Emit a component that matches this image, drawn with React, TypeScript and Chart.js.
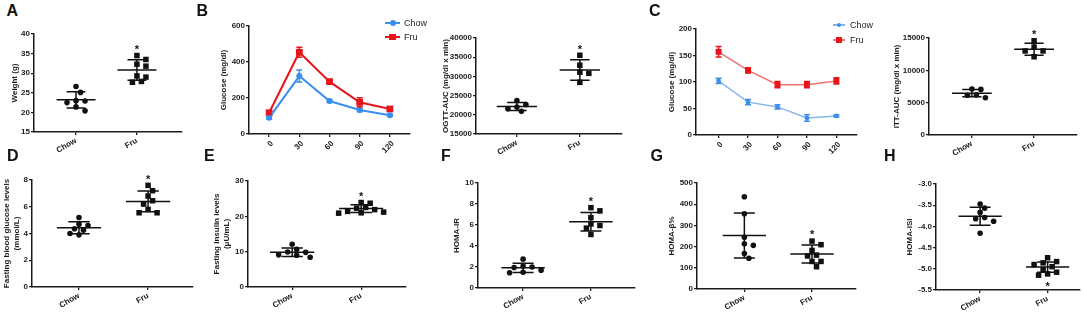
import React, { useEffect, useRef } from "react";
import { Chart, registerables } from "chart.js";

Chart.register(...registerables);

const FONT = "'Liberation Sans', Arial, Helvetica, sans-serif";
const INK = "#1b1b1b";
const DOT = "#111111";

// ---------- data ----------
const groupLabels = ["Chow", "Fru"];
const timePoints = [0, 30, 60, 90, 120];

// A body weight (g)
const chowWeight = [26.6, 25.1, 23.0, 22.9, 22.5, 21.4, 20.4];
const fruWeight = [34.5, 33.5, 32.3, 31.8, 29.3, 29.0, 27.9, 27.7];
const weightMean = [23.2, 30.8];
const weightSd = [2.05, 2.6];

// B OGTT glucose (mg/dl)
const chowOgtt = [90, 322, 183, 133, 104];
const chowOgttSd = [8, 33, 8, 10, 6];
const fruOgtt = [118, 454, 291, 176, 139];
const fruOgttSd = [10, 28, 8, 25, 10];

// B OGTT AUC
const chowOgttAuc = [23700, 22700, 22000, 21600, 20900];
const fruOgttAuc = [35500, 32900, 31100, 30800, 28450];
const ogttAucMean = [22150, 31650];
const ogttAucSd = [1030, 2680];

// C ITT glucose (mg/dl)
const chowItt = [102, 62, 53, 32, 36];
const chowIttSd = [5, 5, 4, 6, 2];
const fruItt = [157, 122, 95, 95, 102];
const fruIttSd = [10, 5, 6, 6, 6];

// C ITT AUC
const chowIttAuc = [7100, 7050, 6200, 6150, 5750];
const fruIttAuc = [14600, 13600, 13000, 13000, 12100];
const ittAucMean = [6470, 13250];
const ittAucSd = [565, 925];

// D fasting blood glucose (mmol/L)
const chowFbg = [5.2, 4.7, 4.6, 4.35, 4.25, 4.0, 3.9];
const fruFbg = [7.6, 7.2, 6.8, 6.45, 6.2, 5.8, 5.55, 5.55];
const fbgMean = [4.43, 6.4];
const fbgSd = [0.45, 0.77];

// E fasting insulin (uU/mL)
const chowIns = [12.1, 10.7, 9.9, 9.8, 9.1, 9.0, 8.4];
const fruIns = [23.9, 23.7, 22.5, 22.3, 21.9, 21.4, 21.2, 21.0, 20.9];
const insMean = [9.84, 22.2];
const insSd = [1.22, 1.1];

// F HOMA-IR
const chowHomaIr = [2.75, 2.1, 2.0, 1.95, 1.7, 1.5, 1.45];
const fruHomaIr = [7.65, 7.35, 6.7, 6.1, 5.95, 5.7, 5.1];
const homaIrMean = [1.92, 6.31];
const homaIrSd = [0.44, 0.88];

// G HOMA-beta%
const chowHomaB = [435, 355, 244, 213, 206, 167, 145];
const fruHomaB = [226, 209, 182, 160, 156, 130, 130, 105];
const homaBMean = [252, 165];
const homaBSd = [106, 42];

// H HOMA-ISI
const chowHomaIsi = [-3.47, -3.57, -3.67, -3.79, -3.82, -3.88, -4.16];
const fruHomaIsi = [-4.74, -4.83, -4.86, -4.9, -4.95, -5.02, -5.08, -5.12, -5.15];
const homaIsiMean = [-3.76, -4.96];
const homaIsiSd = [0.21, 0.12];

// ---------- styles ----------
const tickFont = { family: FONT, size: 8, weight: "bold" as const };
const titleFont = { family: FONT, size: 8, weight: "bold" as const, lineHeight: 1.25 };

type Rect = { l: number; t: number; r: number; b: number };
type Group = { values: number[]; mean: number; sd: number; star?: "up" | "down" };
type Series = {
  label: string; values: number[]; sds: number[]; line: string; marker: string;
  style: string; radius: number; width: number;
};
type Panel = {
  id: string; kind: "dot" | "line"; plot: Rect; titleX: number; title: string | string[];
  y: [number, number, number]; dec?: number; xRange: [number, number];
  groups?: Group[]; series?: Series[];
};

const BLUE = "#3a8ff0";
const RED = "#e8141c";

const panels: Panel[] = [
  {
    id: "A", kind: "dot", plot: { l: 34, t: 34, r: 182, b: 132 }, titleX: 15, title: "Weight (g)",
    y: [15, 40, 5], xRange: [0.31, 2.74],
    groups: [
      { values: chowWeight, mean: weightMean[0], sd: weightSd[0] },
      { values: fruWeight, mean: weightMean[1], sd: weightSd[1], star: "up" },
    ],
  },
  {
    id: "B", kind: "line", plot: { l: 249, t: 26, r: 410, b: 134 }, titleX: 224, title: "Glucose (mg/dl)",
    y: [0, 600, 200], xRange: [-20, 140],
    series: [
      { label: "Chow", values: chowOgtt, sds: chowOgttSd, line: BLUE, marker: BLUE, style: "circle", radius: 3, width: 2 },
      { label: "Fru", values: fruOgtt, sds: fruOgttSd, line: RED, marker: RED, style: "rect", radius: 4.8, width: 2 },
    ],
  },
  {
    id: "Bauc", kind: "dot", plot: { l: 476, t: 38, r: 622, b: 134 }, titleX: 446, title: "OGTT-AUC (mg/dl x min)",
    y: [15000, 40000, 5000], xRange: [0.35, 2.67],
    groups: [
      { values: chowOgttAuc, mean: ogttAucMean[0], sd: ogttAucSd[0] },
      { values: fruOgttAuc, mean: ogttAucMean[1], sd: ogttAucSd[1], star: "up" },
    ],
  },
  {
    id: "C", kind: "line", plot: { l: 696, t: 29, r: 857, b: 135 }, titleX: 672, title: "Glucose (mg/dl)",
    y: [0, 200, 50], xRange: [-23, 141],
    series: [
      { label: "Chow", values: chowItt, sds: chowIttSd, line: "#86b6ee", marker: "#3d8fe8", style: "circle", radius: 2.4, width: 1.5 },
      { label: "Fru", values: fruItt, sds: fruIttSd, line: "#f07272", marker: RED, style: "rect", radius: 4.2, width: 1.5 },
    ],
  },
  {
    id: "Cauc", kind: "dot", plot: { l: 929, t: 38, r: 1077, b: 135 }, titleX: 897, title: "ITT-AUC (mg/dl x min)",
    y: [0, 15000, 5000], xRange: [0.31, 2.69],
    groups: [
      { values: chowIttAuc, mean: ittAucMean[0], sd: ittAucSd[0] },
      { values: fruIttAuc, mean: ittAucMean[1], sd: ittAucSd[1], star: "up" },
    ],
  },
  {
    id: "D", kind: "dot", plot: { l: 32, t: 180, r: 193, b: 287 }, titleX: 7, title: ["Fasting blood glucose levels", "(mmol/L)"],
    y: [0, 8, 2], xRange: [0.32, 2.65],
    groups: [
      { values: chowFbg, mean: fbgMean[0], sd: fbgSd[0] },
      { values: fruFbg, mean: fbgMean[1], sd: fbgSd[1], star: "up" },
    ],
  },
  {
    id: "E", kind: "dot", plot: { l: 248, t: 181, r: 406, b: 287 }, titleX: 217, title: ["Fasting insulin levels", "(μU/mL)"],
    y: [0, 30, 10], xRange: [0.36, 2.65],
    groups: [
      { values: chowIns, mean: insMean[0], sd: insSd[0] },
      { values: fruIns, mean: insMean[1], sd: insSd[1], star: "up" },
    ],
  },
  {
    id: "F", kind: "dot", plot: { l: 478, t: 183, r: 635, b: 288 }, titleX: 457, title: "HOMA-IR",
    y: [0, 10, 2], xRange: [0.335, 2.65],
    groups: [
      { values: chowHomaIr, mean: homaIrMean[0], sd: homaIrSd[0] },
      { values: fruHomaIr, mean: homaIrMean[1], sd: homaIrSd[1], star: "up" },
    ],
  },
  {
    id: "G", kind: "dot", plot: { l: 697, t: 183, r: 856, b: 289 }, titleX: 672, title: "HOMA-β%",
    y: [0, 500, 100], xRange: [0.3, 2.65],
    groups: [
      { values: chowHomaB, mean: homaBMean[0], sd: homaBSd[0] },
      { values: fruHomaB, mean: homaBMean[1], sd: homaBSd[1], star: "up" },
    ],
  },
  {
    id: "H", kind: "dot", plot: { l: 936, t: 184, r: 1082, b: 290 }, titleX: 910, title: "HOMA-ISI",
    y: [-5.5, -3, 0.5], dec: 1, xRange: [0.346, 2.48],
    groups: [
      { values: chowHomaIsi, mean: homaIsiMean[0], sd: homaIsiSd[0] },
      { values: fruHomaIsi, mean: homaIsiMean[1], sd: homaIsiSd[1], star: "down" },
    ],
  },
];

const letters = [
  { t: "A", x: 6.5, y: 3 }, { t: "B", x: 196.5, y: 3 }, { t: "C", x: 649, y: 3 },
  { t: "D", x: 7, y: 148 }, { t: "E", x: 204, y: 148 }, { t: "F", x: 441, y: 148 },
  { t: "G", x: 650.5, y: 148 }, { t: "H", x: 884, y: 148 },
];

const legends = [
  { panel: "B", x: 385, y: 23.3, gap: 14, lineW: 15, textGap: 4 },
  { panel: "C", x: 833, y: 25, gap: 15, lineW: 12, textGap: 5 },
];

// ---------- plugins ----------
const dotPlotPlugin = {
  id: "dotPlot",
  afterDatasetsUpdate(chart: any) {
    chart.data.datasets.forEach((ds: any, di: number) => {
      const els = chart.getDatasetMeta(di).data as any[];
      const order = els.map((_, i) => i).sort((a, b) => els[a].y - els[b].y);
      const placed: { x: number; y: number }[] = [];
      const step = 4.5;
      const minDist = 6;
      for (const i of order) {
        const el = els[i];
        const base = el.x;
        for (let k = 0; k < 30; k++) {
          const off = k === 0 ? 0 : (k % 2 === 1 ? 1 : -1) * Math.ceil(k / 2) * step;
          const x = base + off;
          if (placed.every((p) => Math.hypot(p.x - x, p.y - el.y) >= minDist)) {
            el.x = x;
            placed.push({ x, y: el.y });
            break;
          }
        }
      }
    });
  },
  afterDatasetsDraw(chart: any) {
    const { ctx, scales } = chart;
    const xs = scales.x;
    const ys = scales.y;
    const spacing = Math.abs(xs.getPixelForValue(2) - xs.getPixelForValue(1));
    const half = spacing * 0.32;
    const cap = spacing * 0.155;
    chart.data.datasets.forEach((ds: any, di: number) => {
      const cx = xs.getPixelForValue(ds.group);
      const my = ys.getPixelForValue(ds.mean);
      const top = ys.getPixelForValue(ds.mean + ds.sd);
      const bot = ys.getPixelForValue(ds.mean - ds.sd);
      ctx.save();
      ctx.strokeStyle = DOT;
      ctx.lineWidth = 1.5;
      ctx.beginPath();
      ctx.moveTo(cx - half, my); ctx.lineTo(cx + half, my);
      ctx.moveTo(cx, top); ctx.lineTo(cx, bot);
      ctx.moveTo(cx - cap, top); ctx.lineTo(cx + cap, top);
      ctx.moveTo(cx - cap, bot); ctx.lineTo(cx + cap, bot);
      ctx.stroke();
      if (ds.star) {
        const els = chart.getDatasetMeta(di).data as any[];
        const ysPix = els.map((e) => e.y);
        const starY = ds.star === "up" ? Math.min(...ysPix, top) - 9 : Math.max(...ysPix, bot) + 9;
        ctx.fillStyle = DOT;
        ctx.font = `bold 11px ${FONT}`;
        ctx.textAlign = "center";
        ctx.textBaseline = "alphabetic";
        ctx.fillText("*", cx, starY + 6.3);
      }
      ctx.restore();
    });
  },
};

const errorBarPlugin = {
  id: "errorBars",
  afterDatasetsDraw(chart: any) {
    const { ctx } = chart;
    const ys = chart.scales.y;
    chart.data.datasets.forEach((ds: any, di: number) => {
      const els = chart.getDatasetMeta(di).data as any[];
      ctx.save();
      ctx.strokeStyle = ds.errorColor;
      ctx.lineWidth = 1.5;
      ctx.beginPath();
      els.forEach((el, i) => {
        const v = ds.data[i].y;
        const e = ds.errors[i];
        const t = ys.getPixelForValue(v + e);
        const b = ys.getPixelForValue(v - e);
        ctx.moveTo(el.x, t); ctx.lineTo(el.x, b);
        ctx.moveTo(el.x - 3, t); ctx.lineTo(el.x + 3, t);
        ctx.moveTo(el.x - 3, b); ctx.lineTo(el.x + 3, b);
      });
      ctx.stroke();
      ctx.restore();
    });
  },
};

// ---------- geometry ----------
function geom(p: Panel) {
  const lh = 10;
  const left = Math.max(0, Math.round(p.titleX - lh / 2 - 2));
  const titlePad = Math.max(0, p.titleX - lh / 2 - left);
  const padTop = 10;
  const top = p.plot.t - padTop;
  const right = Math.min(1084, p.plot.r + 12);
  const bottom = Math.min(315, p.plot.b + 30);
  return {
    left, top, width: right - left, height: bottom - top,
    yAxisW: p.plot.l - left, xAxisH: bottom - p.plot.b, padTop, padRight: right - p.plot.r, titlePad,
  };
}

function axisLines() {
  return {
    grid: { display: true, drawOnChartArea: false, drawTicks: true, tickLength: 3, color: INK, lineWidth: 1.3 },
    border: { display: true, color: INK, width: 1.5 },
  };
}

function buildConfig(p: Panel): any {
  const g = geom(p);
  const yScale = {
    type: "linear",
    min: p.y[0], max: p.y[1],
    ticks: {
      stepSize: p.y[2], font: tickFont, color: INK, padding: 1,
      callback: (v: any) => (p.dec ? Number(v).toFixed(p.dec) : String(v)),
    },
    ...axisLines(),
    title: { display: true, text: p.title, font: titleFont, color: INK, padding: { top: g.titlePad, bottom: 0 } },
    afterFit: (s: any) => { s.width = g.yAxisW; },
  };
  const common = {
    responsive: false,
    animation: false,
    events: [],
    layout: { padding: { left: 0, top: g.padTop, right: g.padRight, bottom: 0 } },
    plugins: { legend: { display: false }, tooltip: { enabled: false } },
  };
  if (p.kind === "dot") {
    return {
      type: "scatter",
      data: {
        datasets: p.groups!.map((gr, gi) => ({
          data: gr.values.map((v) => ({ x: gi + 1, y: v })),
          group: gi + 1, mean: gr.mean, sd: gr.sd, star: gr.star,
          pointStyle: gi === 0 ? "circle" : "rect",
          pointRadius: gi === 0 ? 2.8 : 3.9,
          pointBackgroundColor: DOT, pointBorderColor: DOT, pointBorderWidth: 0,
        })),
      },
      options: {
        ...common,
        scales: {
          x: {
            type: "linear", min: p.xRange[0], max: p.xRange[1], offset: false,
            afterBuildTicks: (s: any) => { s.ticks = groupLabels.map((_, i) => ({ value: i + 1 })); },
            ticks: {
              font: tickFont, color: INK, minRotation: 30, maxRotation: 30, padding: 1, autoSkip: false,
              callback: (v: any) => groupLabels[Number(v) - 1] ?? "",
            },
            ...axisLines(),
            afterFit: (s: any) => { s.height = g.xAxisH; },
          },
          y: yScale,
        },
      },
      plugins: [dotPlotPlugin],
    };
  }
  return {
    type: "line",
    data: {
      datasets: p.series!.map((s) => ({
        label: s.label,
        data: timePoints.map((t, i) => ({ x: t, y: s.values[i] })),
        borderColor: s.line, backgroundColor: s.marker, borderWidth: s.width,
        pointStyle: s.style, pointRadius: s.radius,
        pointBackgroundColor: s.marker, pointBorderColor: s.marker, pointBorderWidth: 0,
        tension: 0, fill: false,
        errors: s.sds, errorColor: s.marker,
      })),
    },
    options: {
      ...common,
      scales: {
        x: {
          type: "linear", min: p.xRange[0], max: p.xRange[1], offset: false,
          afterBuildTicks: (s: any) => { s.ticks = timePoints.map((t) => ({ value: t })); },
          ticks: {
            font: tickFont, color: INK, minRotation: 45, maxRotation: 45, padding: 2, labelOffset: 3, autoSkip: false,
            callback: (v: any) => String(v),
          },
          ...axisLines(),
          afterFit: (s: any) => { s.height = g.xAxisH; },
        },
        y: yScale,
      },
    },
    plugins: [errorBarPlugin],
  };
}

function PanelChart({ p }: { p: Panel }) {
  const ref = useRef<HTMLCanvasElement>(null);
  const g = geom(p);
  useEffect(() => {
    const chart = new Chart(ref.current as HTMLCanvasElement, buildConfig(p));
    return () => chart.destroy();
  }, []);
  return (
    <canvas
      ref={ref}
      width={g.width}
      height={g.height}
      style={{ position: "absolute", left: g.left, top: g.top, width: g.width, height: g.height }}
    />
  );
}

function Legend({ cfg }: { cfg: (typeof legends)[number] }) {
  const p = panels.find((q) => q.id === cfg.panel)!;
  return (
    <>
      {p.series!.map((s, i) => {
        const size = s.style === "circle" ? s.radius * 2 : s.radius * 1.3;
        return (
          <div
            key={s.label}
            style={{ position: "absolute", left: cfg.x, top: cfg.y + i * cfg.gap - 6, height: 12, display: "flex", alignItems: "center" }}
          >
            <div style={{ position: "relative", width: cfg.lineW, height: 12 }}>
              <div style={{ position: "absolute", left: 0, width: cfg.lineW, top: 6 - s.width / 2, height: s.width, background: s.line }} />
              <div
                style={{
                  position: "absolute", left: cfg.lineW / 2 - size / 2, top: 6 - size / 2, width: size, height: size,
                  background: s.marker, borderRadius: s.style === "circle" ? "50%" : 0,
                }}
              />
            </div>
            <span style={{ marginLeft: cfg.textGap, font: `9px ${FONT}`, color: INK, lineHeight: "12px" }}>{s.label}</span>
          </div>
        );
      })}
    </>
  );
}

export default function App() {
  return (
    <div style={{ position: "absolute", left: 0, top: 0, width: 1084, height: 315, background: "#fff", overflow: "hidden" }}>
      {panels.map((p) => (
        <PanelChart key={p.id} p={p} />
      ))}
      {legends.map((l) => (
        <Legend key={l.panel} cfg={l} />
      ))}
      {letters.map((l) => (
        <div
          key={l.t}
          style={{ position: "absolute", left: l.x, top: l.y, font: `bold 16px ${FONT}`, lineHeight: "16px", color: "#111" }}
        >
          {l.t}
        </div>
      ))}
    </div>
  );
}
